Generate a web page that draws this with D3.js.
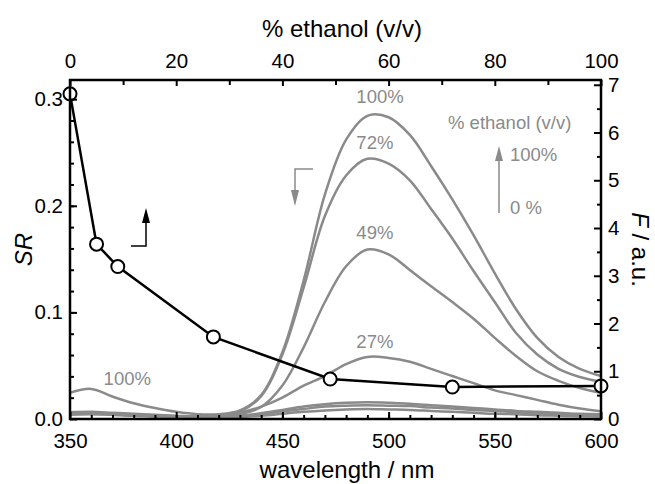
<!DOCTYPE html>
<html>
<head>
<meta charset="utf-8">
<script src="https://cdn.jsdelivr.net/npm/d3@7"></script>
<style>
  body { margin: 0; background: #fff; }
  svg { font-family: "Liberation Sans", Arial, sans-serif; }
</style>
</head>
<body>
<div class="viz"></div>
<script>
// SR vs % ethanol (top axis, left axis)
const ethanol = [0, 5, 9, 27, 49, 72, 100];
const srValues = [0.305, 0.164, 0.143, 0.077, 0.0375, 0.030, 0.031];

// emission spectra F vs wavelength (bottom axis, right axis)
const wavelength = [350, 360, 370, 380, 390, 400, 410, 420, 430, 440, 450, 460, 470, 480, 490, 500, 510, 520, 530, 540, 550, 560, 570, 580, 590, 600];
const f100 = [0.55, 0.63, 0.47, 0.33, 0.23, 0.15, 0.10, 0.10, 0.18, 0.50, 1.40, 2.90, 4.70, 5.85, 6.35, 6.32, 5.95, 5.30, 4.60, 3.85, 3.05, 2.30, 1.70, 1.30, 1.05, 0.90];
const f72 = [0.12, 0.13, 0.10, 0.08, 0.06, 0.05, 0.05, 0.06, 0.15, 0.48, 1.35, 2.75, 4.25, 5.10, 5.45, 5.35, 5.00, 4.40, 3.78, 3.10, 2.45, 1.80, 1.35, 1.05, 0.88, 0.78];
const f49 = [0.11, 0.12, 0.10, 0.08, 0.06, 0.05, 0.05, 0.06, 0.10, 0.25, 0.70, 1.50, 2.45, 3.20, 3.55, 3.45, 3.12, 2.78, 2.45, 2.10, 1.70, 1.32, 1.00, 0.80, 0.65, 0.55];
const f27 = [0.10, 0.11, 0.09, 0.07, 0.06, 0.05, 0.05, 0.06, 0.13, 0.26, 0.45, 0.70, 0.90, 1.15, 1.30, 1.28, 1.20, 1.05, 0.90, 0.75, 0.60, 0.50, 0.40, 0.30, 0.22, 0.16];
const f9 = [0.14, 0.15, 0.13, 0.11, 0.09, 0.07, 0.05, 0.05, 0.07, 0.12, 0.19, 0.26, 0.31, 0.34, 0.35, 0.34, 0.32, 0.29, 0.26, 0.23, 0.20, 0.17, 0.15, 0.13, 0.11, 0.10];
const f5 = [0.12, 0.13, 0.11, 0.09, 0.07, 0.06, 0.04, 0.04, 0.06, 0.10, 0.16, 0.21, 0.26, 0.28, 0.29, 0.28, 0.27, 0.24, 0.22, 0.19, 0.17, 0.14, 0.12, 0.10, 0.09, 0.08];
const f0 = [0.09, 0.10, 0.09, 0.07, 0.06, 0.05, 0.03, 0.03, 0.04, 0.07, 0.11, 0.15, 0.18, 0.20, 0.21, 0.20, 0.19, 0.17, 0.15, 0.13, 0.11, 0.10, 0.08, 0.07, 0.06, 0.05];
const spectra = [f0, f5, f9, f27, f49, f72, f100];

const curveLabels = [
  {text: "100%", w: 490, f: 6.62},
  {text: "72%", w: 490, f: 5.65},
  {text: "49%", w: 490, f: 3.77},
  {text: "27%", w: 490, f: 1.48},
  {text: "100%", w: 371, f: 0.72}
];

const width = 655, height = 484;
const margin = {left: 70, right: 601, top: 80, bottom: 419};
const gray = "#8a8a8a";

const x = d3.scaleLinear().domain([350, 600]).range([margin.left, margin.right]);
const xTop = d3.scaleLinear().domain([0, 100]).range([margin.left, margin.right]);
const ySR = d3.scaleLinear().domain([0, 0.318]).range([margin.bottom, margin.top]);
const yF = d3.scaleLinear().domain([0, 7.1]).range([margin.bottom, margin.top]);

const svg = d3.select(".viz").append("svg")
  .attr("width", width)
  .attr("height", height);

// spectra
const line = d3.line()
  .x((d, i) => x(wavelength[i]))
  .y(d => yF(d))
  .curve(d3.curveCatmullRom.alpha(0.5));

svg.append("g")
  .selectAll("path")
  .data(spectra)
  .enter().append("path")
  .attr("d", line)
  .attr("fill", "none")
  .attr("stroke", gray)
  .attr("stroke-width", 2.5);

svg.append("g")
  .selectAll("text")
  .data(curveLabels)
  .enter().append("text")
  .attr("x", d => x(d.w) - 11)
  .attr("y", d => yF(d.f))
  .attr("fill", gray)
  .attr("font-size", 18.5)
  .text(d => d.text);

// SR series
const srLine = d3.line()
  .x((d, i) => xTop(ethanol[i]))
  .y(d => ySR(d));

svg.append("path")
  .datum(srValues)
  .attr("d", srLine)
  .attr("fill", "none")
  .attr("stroke", "#000")
  .attr("stroke-width", 2.5);

svg.append("g")
  .selectAll("circle")
  .data(srValues)
  .enter().append("circle")
  .attr("cx", (d, i) => xTop(ethanol[i]))
  .attr("cy", d => ySR(d))
  .attr("r", 6.5)
  .attr("fill", "#fff")
  .attr("stroke", "#000")
  .attr("stroke-width", 2);

// axes
function styleAxis(g) {
  g.select(".domain").remove();
  g.selectAll(".tick line").attr("stroke", "#000").attr("stroke-width", 2);
  g.selectAll(".tick text").attr("fill", "#000").attr("font-size", 20.5)
    .attr("font-family", "Liberation Sans, Arial, sans-serif");
}

svg.append("g")
  .attr("transform", `translate(${margin.left},0)`)
  .call(d3.axisLeft(ySR).tickValues([0, 0.1, 0.2, 0.3]).tickFormat(d3.format(".1f")).tickSize(-7).tickPadding(7))
  .call(styleAxis);
svg.append("g")
  .attr("transform", `translate(${margin.left},0)`)
  .call(d3.axisLeft(ySR).tickValues(d3.range(0.02, 0.32, 0.02)).tickFormat("").tickSize(-4))
  .call(styleAxis);

svg.append("g")
  .attr("transform", `translate(${margin.right},0)`)
  .call(d3.axisRight(yF).tickValues(d3.range(0, 8)).tickSize(-7).tickPadding(7))
  .call(styleAxis);
svg.append("g")
  .attr("transform", `translate(${margin.right},0)`)
  .call(d3.axisRight(yF).tickValues(d3.range(0.5, 7, 1)).tickFormat("").tickSize(-4))
  .call(styleAxis);

svg.append("g")
  .attr("transform", `translate(0,${margin.bottom})`)
  .call(d3.axisBottom(x).tickValues(d3.range(350, 601, 50)).tickSize(-7).tickPadding(14))
  .call(styleAxis);
svg.append("g")
  .attr("transform", `translate(0,${margin.bottom})`)
  .call(d3.axisBottom(x).tickValues(d3.range(360, 600, 10)).tickFormat("").tickSize(-4))
  .call(styleAxis);

svg.append("g")
  .attr("transform", `translate(0,${margin.top})`)
  .call(d3.axisTop(xTop).tickValues(d3.range(0, 101, 20)).tickSize(-6).tickPadding(12))
  .call(styleAxis);
svg.append("g")
  .attr("transform", `translate(0,${margin.top})`)
  .call(d3.axisTop(xTop).tickValues(d3.range(10, 100, 20)).tickFormat("").tickSize(-5))
  .call(styleAxis);

// frame
svg.append("rect")
  .attr("x", margin.left).attr("y", margin.top)
  .attr("width", margin.right - margin.left).attr("height", margin.bottom - margin.top)
  .attr("fill", "none")
  .attr("stroke", "#000")
  .attr("stroke-width", 2.5);

// axis titles
const midY = (margin.top + margin.bottom) / 2;
svg.append("text")
  .attr("x", 342).attr("y", 37)
  .attr("text-anchor", "middle").attr("font-size", 24)
  .text("% ethanol (v/v)");
svg.append("text")
  .attr("x", 347).attr("y", 478)
  .attr("text-anchor", "middle").attr("font-size", 24)
  .text("wavelength / nm");
svg.append("text")
  .attr("transform", `translate(32,${midY}) rotate(-90)`)
  .attr("text-anchor", "middle").attr("font-size", 24)
  .attr("font-style", "italic")
  .text("SR");
const fTitle = svg.append("text")
  .attr("transform", `translate(632,${midY}) rotate(90)`)
  .attr("text-anchor", "middle").attr("font-size", 24);
fTitle.append("tspan").attr("font-style", "italic").text("F");
fTitle.append("tspan").text(" / a.u.");

// legend for spectra
svg.append("text")
  .attr("x", 448).attr("y", 129)
  .attr("fill", gray).attr("font-size", 18.5)
  .text("% ethanol (v/v)");
svg.append("text")
  .attr("x", 510).attr("y", 161)
  .attr("fill", gray).attr("font-size", 18.5)
  .text("100%");
svg.append("text")
  .attr("x", 510).attr("y", 214)
  .attr("fill", gray).attr("font-size", 18.5)
  .text("0 %");
svg.append("line")
  .attr("x1", 499).attr("y1", 213).attr("x2", 499).attr("y2", 158)
  .attr("stroke", gray).attr("stroke-width", 1.5);
svg.append("path")
  .attr("d", "M499,146 L495,161 L503,161 Z")
  .attr("fill", gray);

// arrow pointing at spectra (right axis)
svg.append("path")
  .attr("d", "M313,169 L295,169 L295,192")
  .attr("fill", "none").attr("stroke", gray).attr("stroke-width", 1.5);
svg.append("path")
  .attr("d", "M295,206 L291,190 L299,190 Z")
  .attr("fill", gray);

// arrow pointing at SR (top axis)
svg.append("path")
  .attr("d", "M131,246 L146,246 L146,220")
  .attr("fill", "none").attr("stroke", "#000").attr("stroke-width", 1.5);
svg.append("path")
  .attr("d", "M146,208 L142,223 L150,223 Z")
  .attr("fill", "#000");
</script>
</body>
</html>
